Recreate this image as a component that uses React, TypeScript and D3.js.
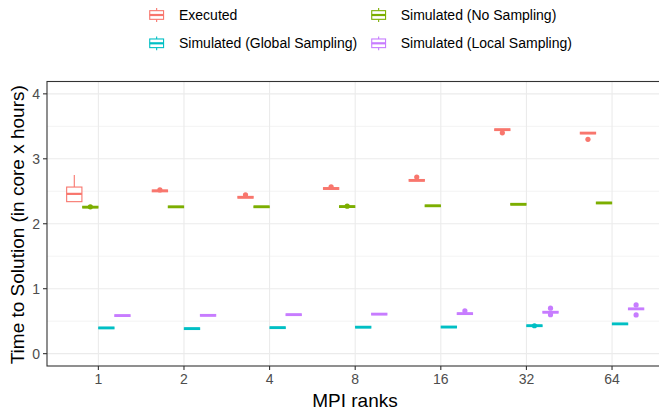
import React from "react";
import * as d3 from "d3";

const categories = ["1", "2", "4", "8", "16", "32", "64"];
const seriesNames = [
  "Executed",
  "Simulated (No Sampling)",
  "Simulated (Global Sampling)",
  "Simulated (Local Sampling)",
];
const seriesColors = ["#F8766D", "#7CAE00", "#00BFC4", "#C77CFF"];
const yTicks = [0, 1, 2, 3, 4];
const yMinor = [0.5, 1.5, 2.5, 3.5];

// [lower, q1, median, q3, upper] per category
const executedStats = [
  [2.34, 2.34, 2.46, 2.565, 2.75],
  [2.492, 2.492, 2.507, 2.52, 2.52],
  [2.394, 2.394, 2.408, 2.421, 2.421],
  [2.529, 2.529, 2.543, 2.556, 2.556],
  [2.655, 2.655, 2.668, 2.681, 2.681],
  [3.435, 3.435, 3.448, 3.461, 3.461],
  [3.383, 3.383, 3.396, 3.409, 3.409],
];
const executedOutliers = [[], [2.52], [2.445], [2.57], [2.72], [3.40], [3.30]];

const noSamplingStats = [
  [2.243, 2.243, 2.256, 2.269, 2.269],
  [2.247, 2.247, 2.26, 2.273, 2.273],
  [2.248, 2.248, 2.261, 2.274, 2.274],
  [2.251, 2.251, 2.264, 2.277, 2.277],
  [2.263, 2.263, 2.276, 2.289, 2.289],
  [2.287, 2.287, 2.3, 2.313, 2.313],
  [2.307, 2.307, 2.32, 2.333, 2.333],
];
const noSamplingOutliers = [[2.26], [], [], [2.27], [], [], []];

const globalStats = [
  [0.383, 0.383, 0.396, 0.409, 0.409],
  [0.372, 0.372, 0.385, 0.398, 0.398],
  [0.387, 0.387, 0.4, 0.413, 0.413],
  [0.395, 0.395, 0.408, 0.421, 0.421],
  [0.397, 0.397, 0.41, 0.423, 0.423],
  [0.417, 0.417, 0.43, 0.443, 0.443],
  [0.445, 0.445, 0.458, 0.471, 0.471],
];
const globalOutliers = [[], [], [], [], [], [0.43], []];

const localStats = [
  [0.573, 0.573, 0.586, 0.599, 0.599],
  [0.577, 0.577, 0.59, 0.603, 0.603],
  [0.587, 0.587, 0.6, 0.613, 0.613],
  [0.596, 0.596, 0.609, 0.622, 0.622],
  [0.603, 0.603, 0.616, 0.629, 0.629],
  [0.625, 0.625, 0.638, 0.651, 0.651],
  [0.676, 0.676, 0.689, 0.702, 0.702],
];
const localOutliers = [[], [], [], [], [0.66], [0.7, 0.6], [0.75, 0.596]];

const allStats = [executedStats, noSamplingStats, globalStats, localStats];
const allOutliers = [executedOutliers, noSamplingOutliers, globalOutliers, localOutliers];

const W = 659;
const H = 412;
const panel = { left: 47, right: 663.4, top: 81.5, bottom: 366 };
const FONT = "'Liberation Sans', Arial, Helvetica, sans-serif";

export default function App() {
  const x = d3
    .scalePoint<string>()
    .domain(categories)
    .range([panel.left, panel.right])
    .padding(0.6);
  const y = d3.scaleLinear().domain([-0.19, 4.19]).range([panel.bottom, panel.top]);
  const step = x.step();
  const slot = (0.75 / 4) * step;
  const boxW = slot * 0.95;

  const legendItems = [
    { i: 0, kx: 148, tx: 179, cy: 15 },
    { i: 1, kx: 370, tx: 400.7, cy: 15 },
    { i: 2, kx: 148, tx: 179, cy: 43.3 },
    { i: 3, kx: 370, tx: 400.7, cy: 43.3 },
  ];

  return (
    <svg
      width={W}
      height={H}
      style={{ position: "absolute", left: 0, top: 0, background: "#fff" }}
      fontFamily={FONT}
    >
      <rect x={0} y={0} width={W} height={H} fill="#fff" />
      {/* grid */}
      {yMinor.map((v) => (
        <line key={"mi" + v} x1={panel.left} x2={panel.right} y1={y(v)} y2={y(v)} stroke="#ebebeb" strokeWidth={0.6} />
      ))}
      {yTicks.map((v) => (
        <line key={"ma" + v} x1={panel.left} x2={panel.right} y1={y(v)} y2={y(v)} stroke="#ebebeb" strokeWidth={1.1} />
      ))}
      {categories.map((c) => (
        <line key={"vx" + c} x1={x(c)} x2={x(c)} y1={panel.top} y2={panel.bottom} stroke="#ebebeb" strokeWidth={1.1} />
      ))}
      {/* boxes */}
      {allStats.map((stats, si) =>
        stats.map((s, ci) => {
          const cx = (x(categories[ci]) as number) + (si - 1.5) * slot;
          const [lo, q1, med, q3, hi] = s;
          const col = seriesColors[si];
          return (
            <g key={si + "-" + ci}>
              <line x1={cx} x2={cx} y1={y(q3)} y2={y(hi)} stroke={col} strokeWidth={1.1} />
              <line x1={cx} x2={cx} y1={y(q1)} y2={y(lo)} stroke={col} strokeWidth={1.1} />
              <rect
                x={cx - boxW / 2}
                width={boxW}
                y={y(q3)}
                height={Math.max(0, y(q1) - y(q3))}
                fill="#fff"
                stroke={col}
                strokeWidth={1.1}
              />
              <line x1={cx - boxW / 2} x2={cx + boxW / 2} y1={y(med)} y2={y(med)} stroke={col} strokeWidth={2.2} />
              {allOutliers[si][ci].map((o, oi) => (
                <circle key={oi} cx={cx} cy={y(o)} r={2.6} fill={col} />
              ))}
            </g>
          );
        })
      )}
      {/* panel border */}
      <rect
        x={panel.left}
        y={panel.top}
        width={panel.right - panel.left}
        height={panel.bottom - panel.top}
        fill="none"
        stroke="#333333"
        strokeWidth={1.1}
      />
      {/* y axis */}
      {yTicks.map((v) => (
        <g key={"yt" + v}>
          <line x1={panel.left - 4} x2={panel.left} y1={y(v)} y2={y(v)} stroke="#333333" strokeWidth={1.1} />
          <text x={panel.left - 7} y={y(v)} dy="0.35em" textAnchor="end" fontSize={14} fill="#4d4d4d">
            {v}
          </text>
        </g>
      ))}
      {/* x axis */}
      {categories.map((c) => (
        <g key={"xt" + c}>
          <line x1={x(c)} x2={x(c)} y1={panel.bottom} y2={panel.bottom + 4} stroke="#333333" strokeWidth={1.1} />
          <text x={x(c)} y={panel.bottom + 18} textAnchor="middle" fontSize={14} fill="#4d4d4d">
            {c}
          </text>
        </g>
      ))}
      <text x={(panel.left + 659) / 2 + 2} y={406.5} textAnchor="middle" fontSize={19} fill="#000">
        MPI ranks
      </text>
      <text
        transform={`translate(23.5, ${(panel.top + panel.bottom) / 2 + 1}) rotate(-90)`}
        textAnchor="middle"
        fontSize={19}
        fill="#000"
      >
        Time to Solution (in core x hours)
      </text>
      {/* legend */}
      {legendItems.map((li) => {
        const col = seriesColors[li.i];
        const kw = 17.3;
        const kx = li.kx;
        const ky = li.cy - kw / 2;
        const mx = kx + kw / 2;
        return (
          <g key={"lg" + li.i}>
            <line x1={mx} x2={mx} y1={ky + kw * 0.1} y2={ky + kw * 0.25} stroke={col} strokeWidth={1.1} />
            <line x1={mx} x2={mx} y1={ky + kw * 0.75} y2={ky + kw * 0.9} stroke={col} strokeWidth={1.1} />
            <rect x={kx + kw * 0.1} y={ky + kw * 0.25} width={kw * 0.8} height={kw * 0.5} fill="#fff" stroke={col} strokeWidth={1.1} />
            <line x1={kx + kw * 0.1} x2={kx + kw * 0.9} y1={li.cy} y2={li.cy} stroke={col} strokeWidth={2.2} />
            <text x={li.tx} y={li.cy} dy="0.35em" fontSize={14} fill="#000">
              {seriesNames[li.i]}
            </text>
          </g>
        );
      })}
    </svg>
  );
}
